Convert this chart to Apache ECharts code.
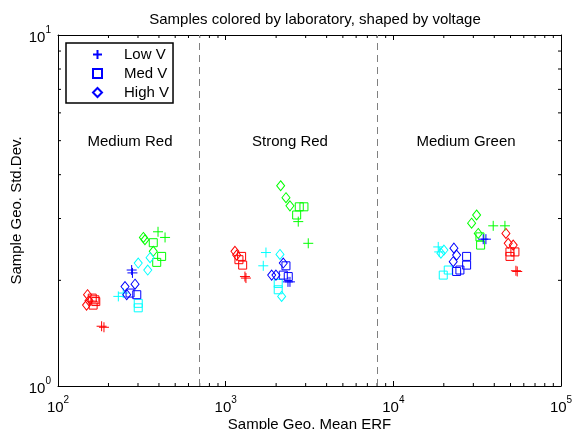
<!DOCTYPE html>
<html>
<head>
<meta charset="utf-8">
<script src="https://cdn.jsdelivr.net/npm/echarts@6/dist/echarts.min.js"></script>
<style>
  html, body { margin: 0; padding: 0; background: #fff; }
  #chart { width: 573px; height: 429px; }
</style>
</head>
<body>
<div id="chart"></div>
<script>
  // [mean ERF, std dev] per lab colour and voltage
  var redLow = [[182, 1.48], [188, 1.47], [1303, 2.05], [1321, 2.03], [54820, 2.12], [53840, 2.13]]
  var redMed = [[160, 1.78], [168, 1.74], [166, 1.76], [162, 1.70], [1245, 2.34], [1263, 2.21], [1200, 2.29], [49600, 2.41], [53110, 2.41], [49600, 2.34]]
  var redHigh = [[150, 1.82], [148, 1.70], [153, 1.75], [1136, 2.42], [1163, 2.36], [46930, 2.72], [48440, 2.55], [51880, 2.52]]
  var greenLow = [[395, 2.75], [435, 2.65], [2710, 2.94], [3109, 2.55], [39420, 2.86], [46300, 2.86]]
  var greenMed = [[370, 2.56], [415, 2.34], [388, 2.25], [2748, 3.24], [2930, 3.24], [2651, 3.07], [32850, 2.66], [33160, 2.52]]
  var greenHigh = [[323, 2.65], [330, 2.61], [370, 2.42], [2128, 3.72], [2289, 3.44], [2418, 3.26], [31380, 3.07], [29300, 2.91], [32090, 2.72]]
  var blueLow = [[275, 2.14], [278, 2.10], [2418, 1.98], [2353, 1.98], [34370, 2.62], [35660, 2.62]]
  var blueMed = [[269, 1.84], [295, 1.82], [2289, 2.20], [2206, 2.07], [2362, 2.05], [27360, 2.34], [27360, 2.21], [24950, 2.14], [23850, 2.12]]
  var blueHigh = [[251, 1.92], [288, 1.95], [257, 1.82], [2206, 2.24], [1881, 2.07], [1995, 2.07], [22980, 2.47], [23850, 2.36], [22760, 2.26]]
  var cyanLow = [[229, 1.80], [245, 1.84], [1739, 2.40], [1676, 2.20], [18530, 2.49], [18780, 2.41]]
  var cyanMed = [[301, 1.72], [301, 1.67], [2058, 1.96], [2058, 1.88], [19850, 2.07], [21260, 2.14]]
  var cyanHigh = [[301, 2.24], [354, 2.32], [343, 2.14], [2108, 2.37], [2157, 1.80], [20040, 2.44], [19220, 2.39]]

  var dividers = [700, 8000]
  var groupNames = ['Medium Red', 'Strong Red', 'Medium Green']
  var voltages = ['Low V', 'Med V', 'High V']
  var xMinorTicks = [200, 300, 400, 500, 600, 700, 800, 900, 2000, 3000, 4000, 5000, 6000, 7000, 8000, 9000, 20000, 30000, 40000, 50000, 60000, 70000, 80000, 90000]
  var yMinorTicks = [2, 3, 4, 5, 6, 7, 8, 9]

  var FONT = 'Liberation Sans'
  var PLUS = 'path://M5,0L5,10M0,5L10,5'
  var symbols = {low: PLUS, med: 'rect', high: 'diamond'}
  var sizes = {low: 10, med: 8, high: [8, 10]}

  function powLabel (v) {
    var e = Math.round(Math.log(v) / Math.LN10)
    return '{b|10}{s|' + e + '}'
  }
  var powRich = {
    b: {fontSize: 15, fontFamily: FONT, color: '#000', lineHeight: 20, verticalAlign: 'bottom'},
    s: {fontSize: 10, fontFamily: FONT, color: '#000', lineHeight: 20, verticalAlign: 'top'}
  }

  function dots (name, kind, color, data) {
    return {
      name: name,
      type: 'scatter',
      data: data,
      symbol: symbols[kind],
      symbolSize: sizes[kind],
      itemStyle: {color: 'transparent', borderColor: color, borderWidth: 1, opacity: 1},
      emphasis: {disabled: true},
      z: 3
    }
  }

  var series = [
    dots('red Low V', 'low', '#ff0000', redLow),
    dots('red Med V', 'med', '#ff0000', redMed),
    dots('red High V', 'high', '#ff0000', redHigh),
    dots('green Low V', 'low', '#00ff00', greenLow),
    dots('green Med V', 'med', '#00ff00', greenMed),
    dots('green High V', 'high', '#00ff00', greenHigh),
    dots('cyan Low V', 'low', '#00ffff', cyanLow),
    dots('cyan Med V', 'med', '#00ffff', cyanMed),
    dots('cyan High V', 'high', '#00ffff', cyanHigh),
    dots('Low V', 'low', '#0000ff', blueLow),
    dots('Med V', 'med', '#0000ff', blueMed),
    dots('High V', 'high', '#0000ff', blueHigh)
  ]

  series[0].markLine = {
    silent: true,
    symbol: 'none',
    label: {show: false},
    lineStyle: {color: '#808080', type: [7, 5], width: 1},
    data: dividers.map(function (d) { return {xAxis: d} })
  }

  // minor ticks for the log axes, inside the box on both sides
  series.push({
    type: 'custom',
    silent: true,
    data: xMinorTicks.map(function (v) { return [v, 1] }),
    renderItem: function (params, api) {
      var cs = params.coordSys
      var x = api.coord([api.value(0), 1])[0]
      var st = {stroke: '#000', lineWidth: 1}
      return {type: 'group', children: [
        {type: 'line', shape: {x1: x, y1: cs.y + cs.height, x2: x, y2: cs.y + cs.height - 3}, style: st},
        {type: 'line', shape: {x1: x, y1: cs.y, x2: x, y2: cs.y + 3}, style: st}
      ]}
    },
    z: 2
  })
  series.push({
    type: 'custom',
    silent: true,
    data: yMinorTicks.map(function (v) { return [100, v] }),
    renderItem: function (params, api) {
      var cs = params.coordSys
      var y = api.coord([100, api.value(1)])[1]
      var st = {stroke: '#000', lineWidth: 1}
      return {type: 'group', children: [
        {type: 'line', shape: {x1: cs.x, y1: y, x2: cs.x + 3, y2: y}, style: st},
        {type: 'line', shape: {x1: cs.x + cs.width, y1: y, x2: cs.x + cs.width - 3, y2: y}, style: st}
      ]}
    },
    z: 2
  })

  var axisBase = {
    type: 'log',
    logBase: 10,
    splitLine: {show: false},
    axisLine: {show: true, lineStyle: {color: '#000', width: 1}},
    axisTick: {show: true, inside: true, length: 5, lineStyle: {color: '#000'}}
  }

  var option = {
    animation: false,
    backgroundColor: '#fff',
    textStyle: {fontFamily: FONT},
    title: {
      text: 'Samples colored by laboratory, shaped by voltage',
      left: 310,
      textAlign: 'center',
      top: 7,
      textStyle: {fontSize: 15, fontWeight: 'normal', color: '#000', fontFamily: FONT}
    },
    legend: {
      data: voltages,
      orient: 'vertical',
      left: 66,
      top: 43,
      padding: [3, 4, 2, 26],
      itemGap: 2,
      itemWidth: 9,
      itemHeight: 9,
      borderColor: '#000',
      borderWidth: 1.5,
      backgroundColor: '#fff',
      textStyle: {fontSize: 15, color: '#000', fontFamily: FONT, lineHeight: 17, padding: [0, 0, 0, 17]}
    },
    grid: {left: 58, right: 12, top: 35, bottom: 43, show: false, containLabel: false, outerBoundsMode: 'none'},
    xAxis: [
      Object.assign({}, axisBase, {
        min: 100, max: 100000,
        name: 'Sample Geo. Mean ERF',
        nameLocation: 'middle',
        nameGap: 31,
        nameMoveOverlap: false,
        nameTextStyle: {fontSize: 15, color: '#000', fontFamily: FONT},
        axisLabel: {formatter: powLabel, rich: powRich, margin: 9}
      }),
      Object.assign({}, axisBase, {min: 100, max: 100000, position: 'top', axisLabel: {show: false}})
    ],
    yAxis: [
      Object.assign({}, axisBase, {
        min: 1, max: 10,
        name: 'Sample Geo. Std.Dev.',
        nameLocation: 'middle',
        nameGap: 34,
        nameMoveOverlap: false,
        nameTextStyle: {fontSize: 15, color: '#000', fontFamily: FONT},
        axisLabel: {formatter: powLabel, rich: powRich, margin: 7}
      }),
      Object.assign({}, axisBase, {min: 1, max: 10, position: 'right', axisLabel: {show: false}})
    ],
    graphic: groupNames.map(function (g, i) {
      return {
        type: 'text',
        x: [130, 290, 466][i],
        y: 142,
        style: {text: g, fontSize: 15, fontFamily: FONT, fill: '#000', align: 'center', verticalAlign: 'middle'}
      }
    }),
    series: series
  }

  var chart = echarts.init(document.getElementById('chart'))
  chart.setOption(option)
</script>
</body>
</html>
